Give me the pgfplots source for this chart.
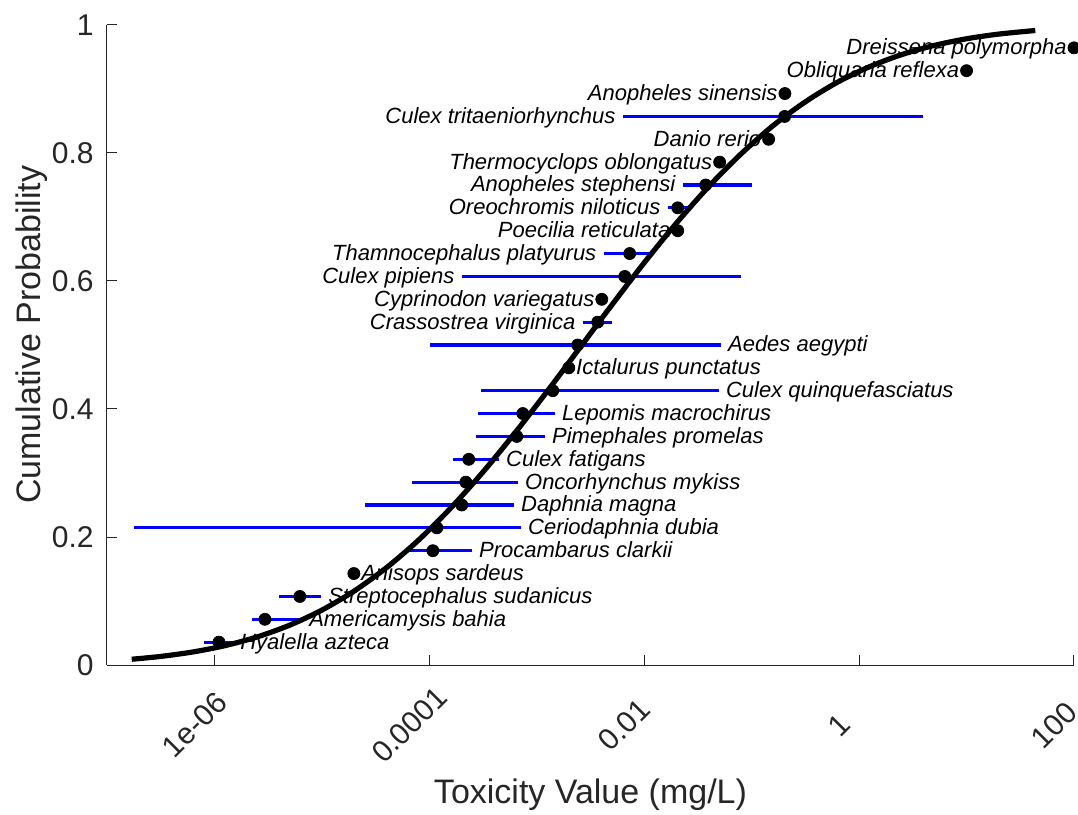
\documentclass[border=0pt]{standalone}
\usepackage{pgfplots}
\pgfplotsset{compat=1.18}
\usepackage{fontspec}
\setmainfont{Liberation Sans}
\definecolor{axgray}{RGB}{38,38,38}
\newcommand\lbl{\fontsize{11bp}{13bp}\selectfont\itshape}
\tikzset{lr/.style={anchor=west, inner sep=0pt, xshift=3.5bp, font=\lbl, text height=7.5bp, text depth=0.5bp},
         ll/.style={anchor=east, inner sep=0pt, xshift=-3.5bp, font=\lbl, text height=7.5bp, text depth=0.5bp}}
\begin{document}
\begin{tikzpicture}
\begin{axis}[
  name=ax,
  at={(0,0)}, anchor=south west,
  scale only axis,
  width=483.5bp, height=320bp,
  xmode=log,
  xmin=1e-7, xmax=100,
  ymin=0, ymax=1,
  axis x line=bottom, axis y line=left,
  axis line style={-, axgray, line width=0.5bp},
  tick align=inside,
  major tick length=5bp,
  xminorticks=false,
  tick style={axgray, line width=0.5bp},
  xtick={1e-6,1e-4,1e-2,1,100},
  xticklabels={1e-06,0.0001,0.01,1,100},
  ytick={0,0.2,0.4,0.6,0.8,1},
  yticklabels={0,0.2,0.4,0.6,0.8,1},
  /pgf/number format/assume math mode=true,
  tick label style={font=\fontsize{15bp}{18bp}\selectfont, text=axgray},
  xticklabel style={xshift=-10bp, yshift=-30bp, rotate=45, anchor=center, inner sep=0pt},
  yticklabel style={anchor=east, inner sep=0pt, xshift=-6.5bp},
  xlabel={Toxicity Value (mg/L)},
  ylabel={Cumulative Probability},
  label style={font=\fontsize{17bp}{20bp}\selectfont, text=axgray},
  xlabel style={at={(axis description cs:0.5,-0.203)}, anchor=center},
  ylabel style={at={(axis description cs:-0.0776,0.516)}, anchor=center},
  clip=false,
]
% error bars (lower, upper) at each cumulative probability
\addplot[blue, line width=1.6bp, forget plot] coordinates {(7.98e-7,0.0357) (1.486e-6,0.0357)};
\addplot[blue, line width=1.6bp, forget plot] coordinates {(2.234e-6,0.0714) (6.516e-6,0.0714)};
\addplot[blue, line width=1.6bp, forget plot] coordinates {(3.981e-6,0.1071) (9.795e-6,0.1071)};
\addplot[blue, line width=1.6bp, forget plot] coordinates {(6.039e-5,0.1786) (2.483e-4,0.1786)};
\addplot[blue, line width=1.6bp, forget plot] coordinates {(1.782e-7,0.2143) (7.096e-4,0.2143)};
\addplot[blue, line width=1.6bp, forget plot] coordinates {(2.512e-5,0.25) (6.109e-4,0.25)};
\addplot[blue, line width=1.6bp, forget plot] coordinates {(6.871e-5,0.2857) (6.653e-4,0.2857)};
\addplot[blue, line width=1.6bp, forget plot] coordinates {(1.656e-4,0.3214) (4.436e-4,0.3214)};
\addplot[blue, line width=1.6bp, forget plot] coordinates {(2.710e-4,0.3571) (1.186e-3,0.3571)};
\addplot[blue, line width=1.6bp, forget plot] coordinates {(2.825e-4,0.3929) (1.469e-3,0.3929)};
\addplot[blue, line width=1.6bp, forget plot] coordinates {(3.013e-4,0.4286) (4.932e-2,0.4286)};
\addplot[blue, line width=1.6bp, forget plot] coordinates {(1.012e-4,0.5) (5.152e-2,0.5)};
\addplot[blue, line width=1.6bp, forget plot] coordinates {(2.679e-3,0.5357) (4.989e-3,0.5357)};
\addplot[blue, line width=1.6bp, forget plot] coordinates {(2.005e-4,0.6071) (7.907e-2,0.6071)};
\addplot[blue, line width=1.6bp, forget plot] coordinates {(4.198e-3,0.6429) (1.175e-2,0.6429)};
\addplot[blue, line width=1.6bp, forget plot] coordinates {(1.656e-2,0.7143) (2.649e-2,0.7143)};
\addplot[blue, line width=1.6bp, forget plot] coordinates {(2.280e-2,0.75) (0.1,0.75)};
\addplot[blue, line width=1.6bp, forget plot] coordinates {(6.310e-3,0.8571) (3.899,0.8571)};
% fitted distribution
\addplot[black, line width=2.6bp, smooth, forget plot] coordinates {
(1.698e-7,0.0090) (3.162e-7,0.0134) (6.310e-7,0.0204) (1.259e-6,0.0303)
(2.512e-6,0.0440) (5.012e-6,0.0622) (1e-5,0.0858) (1.995e-5,0.1155)
(3.981e-5,0.1519) (7.943e-5,0.1952) (1.585e-4,0.2454) (3.162e-4,0.3016)
(6.310e-4,0.3632) (1.259e-3,0.4282) (2.512e-3,0.4955) (5.012e-3,0.5628)
(0.01,0.6285) (0.01995,0.6904) (0.03981,0.7475) (0.07943,0.7984)
(0.1585,0.8428) (0.3162,0.8800) (0.6310,0.9107) (1.259,0.9350)
(2.512,0.9539) (5.012,0.9681) (10,0.9785) (19.95,0.9858) (43.65,0.9914)};
% species toxicity values
\addplot[only marks, mark=*, mark size=3bp, black, forget plot] coordinates {
(1.102e-6,0.0357) (2.951e-6,0.0714) (6.237e-6,0.1071) (1.986e-5,0.1429)
(1.079e-4,0.1786) (1.175e-4,0.2143) (2.005e-4,0.25) (2.188e-4,0.2857)
(2.328e-4,0.3214) (6.516e-4,0.3571) (7.413e-4,0.3929) (1.409e-3,0.4286)
(1.986e-3,0.4643) (2.404e-3,0.5) (3.690e-3,0.5357) (4.027e-3,0.5714)
(6.592e-3,0.6071) (7.328e-3,0.6429) (2.051e-2,0.6786) (2.051e-2,0.7143)
(3.733e-2,0.75) (5.035e-2,0.7857) (0.1439,0.8214) (0.2028,0.8571)
(0.204,0.8929) (10,0.9286) (100,0.9643)};
% labels
\node[lr] at (axis cs:1.486e-6,0.0357) {Hyalella azteca};
\node[lr] at (axis cs:6.516e-6,0.0714) {Americamysis bahia};
\node[lr] at (axis cs:9.795e-6,0.1071) {Streptocephalus sudanicus};
\node[lr] at (axis cs:1.986e-5,0.1429) {Anisops sardeus};
\node[lr] at (axis cs:2.483e-4,0.1786) {Procambarus clarkii};
\node[lr] at (axis cs:7.096e-4,0.2143) {Ceriodaphnia dubia};
\node[lr] at (axis cs:6.109e-4,0.25) {Daphnia magna};
\node[lr] at (axis cs:6.653e-4,0.2857) {Oncorhynchus mykiss};
\node[lr] at (axis cs:4.436e-4,0.3214) {Culex fatigans};
\node[lr] at (axis cs:1.186e-3,0.3571) {Pimephales promelas};
\node[lr] at (axis cs:1.469e-3,0.3929) {Lepomis macrochirus};
\node[lr] at (axis cs:4.932e-2,0.4286) {Culex quinquefasciatus};
\node[lr] at (axis cs:1.986e-3,0.4643) {Ictalurus punctatus};
\node[lr] at (axis cs:5.152e-2,0.5) {Aedes aegypti};
\node[ll] at (axis cs:2.679e-3,0.5357) {Crassostrea virginica};
\node[ll] at (axis cs:4.027e-3,0.5714) {Cyprinodon variegatus};
\node[ll] at (axis cs:2.005e-4,0.6071) {Culex pipiens};
\node[ll] at (axis cs:4.198e-3,0.6429) {Thamnocephalus platyurus};
\node[ll] at (axis cs:2.051e-2,0.6786) {Poecilia reticulata};
\node[ll] at (axis cs:1.656e-2,0.7143) {Oreochromis niloticus};
\node[ll] at (axis cs:2.280e-2,0.75) {Anopheles stephensi};
\node[ll] at (axis cs:5.035e-2,0.7857) {Thermocyclops oblongatus};
\node[ll] at (axis cs:0.1439,0.8214) {Danio rerio};
\node[ll] at (axis cs:6.310e-3,0.8571) {Culex tritaeniorhynchus};
\node[ll] at (axis cs:0.204,0.8929) {Anopheles sinensis};
\node[ll] at (axis cs:10,0.9286) {Obliquaria reflexa};
\node[ll] at (axis cs:100,0.9643) {Dreissena polymorpha};
\end{axis}
\pgfresetboundingbox
\path (ax.south west) ++(-53.5bp,-75bp) rectangle ++(539bp,407.5bp);
\end{tikzpicture}
\end{document}
